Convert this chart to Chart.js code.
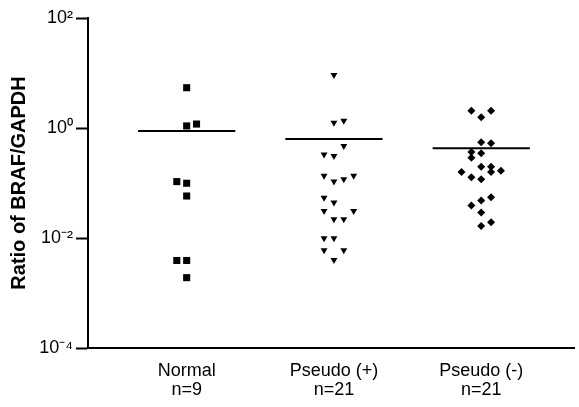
<!DOCTYPE html>
<html>
<head>
<meta charset="utf-8">
<script src="https://cdn.jsdelivr.net/npm/chart.js@4.4.1/dist/chart.umd.min.js"></script>
<style>
  html, body { margin: 0; padding: 0; background: #fff; }
</style>
</head>
<body>
<canvas id="dotChart" width="579" height="407"></canvas>
<script>
// Groups and x labels
const groups = ["Normal", "Pseudo (+)", "Pseudo (-)"];
const counts = ["n=9", "n=21", "n=21"];

// Y axis ticks (log scale)
const yTicks = [1e-4, 1e-2, 1, 1e2];
const yTickLabels = ["10\u207B\u2074", "10\u207B\u00B2", "10\u2070", "10\u00B2"];

// Ratio values per group, with the column (jitter) each dot sits in
const normalVals = [5.4, 1.09, 1.18, 0.106, 0.099, 0.058, 0.0039, 0.0039, 0.0019];
const normalCols = [0, 0, 1, -1, 0, 0, -1, 0, 0];

const pseudoPosVals = [9.2, 1.25, 1.36, 0.47, 0.33, 0.31, 0.136, 0.106, 0.117, 0.136,
  0.054, 0.044, 0.031, 0.031, 0.022, 0.022, 0.0099, 0.0099, 0.006, 0.006, 0.004];
const pseudoPosCols = [0, 0, 1, 1, -1, 0, -1, 0, 1, 2,
  -1, 0, -1, 2, 0, 1, -1, 0, -1, 1, 0];

const pseudoNegVals = [2.06, 1.57, 2.06, 0.55, 0.527, 0.366, 0.347, 0.288, 0.198, 0.198,
  0.158, 0.158, 0.167, 0.127, 0.117, 0.055, 0.048, 0.039, 0.029, 0.0165, 0.0193];
const pseudoNegCols = [-1, 0, 1, 0, 1, -1, 0, -1, 0, 1,
  -2, 1, 2, -1, 0, 1, 0, -1, 0, 0, 1];

// Horizontal bars (group means)
const groupMeans = [0.88, 0.63, 0.43];

const colStep = 0.067;   // jitter spacing in x units
const barHalf = 0.33;    // half width of the mean bar

function toPoints(vals, cols, group) {
  return vals.map((v, i) => ({ x: group + cols[i] * colStep, y: v }));
}

const dotStyle = {
  type: "scatter",
  backgroundColor: "#000",
  borderColor: "#000",
  borderWidth: 0
};

const datasets = [
  Object.assign({}, dotStyle, {
    label: groups[0],
    data: toPoints(normalVals, normalCols, 1),
    pointStyle: "rect",
    pointRadius: 5
  }),
  Object.assign({}, dotStyle, {
    label: groups[1],
    data: toPoints(pseudoPosVals, pseudoPosCols, 2),
    pointStyle: "triangle",
    rotation: 180,
    pointRadius: 4
  }),
  Object.assign({}, dotStyle, {
    label: groups[2],
    data: toPoints(pseudoNegVals, pseudoNegCols, 3),
    pointStyle: "rectRot",
    pointRadius: 4
  })
];

// mean bars
groupMeans.forEach((m, i) => {
  datasets.push({
    type: "line",
    label: groups[i] + " mean",
    data: [{ x: i + 1 - barHalf, y: m }, { x: i + 1 + barHalf, y: m }],
    borderColor: "#000",
    borderWidth: 2,
    pointRadius: 0,
    fill: false
  });
});

const ctx = document.getElementById("dotChart").getContext("2d");
const dotChart = new Chart(ctx, {
  type: "scatter",
  data: { datasets: datasets },
  options: {
    responsive: false,
    animation: false,
    devicePixelRatio: 1,
    layout: {
      padding: { top: 18, right: 0, bottom: 0, left: 0 }
    },
    plugins: {
      legend: { display: false },
      tooltip: { enabled: false }
    },
    scales: {
      x: {
        type: "linear",
        min: 0.33,
        max: 3.63,
        grid: { display: false },
        border: { display: true, color: "#000", width: 2 },
        afterBuildTicks: function (scale) {
          scale.ticks = groups.map((g, i) => ({ value: i + 1 }));
        },
        afterFit: function (scale) {
          scale.height = 59;
        },
        ticks: {
          autoSkip: false,
          maxRotation: 0,
          padding: 6,
          color: "#000",
          font: { family: "'Liberation Sans', Arial, sans-serif", size: 18, lineHeight: 1.05 },
          callback: function (value) {
            const i = Math.round(value) - 1;
            return [groups[i], counts[i]];
          }
        }
      },
      y: {
        type: "logarithmic",
        min: 1e-4,
        max: 1e2,
        grid: {
          drawOnChartArea: false,
          drawTicks: true,
          tickLength: 12,
          tickWidth: 2,
          tickColor: "#000"
        },
        border: { display: true, color: "#000", width: 2 },
        afterBuildTicks: function (scale) {
          scale.ticks = yTicks.map(v => ({ value: v }));
        },
        afterFit: function (scale) {
          scale.width = 88;
        },
        ticks: {
          padding: 3,
          color: "#000",
          font: { family: "'Liberation Sans', Arial, sans-serif", size: 18 },
          callback: function (value) {
            const i = yTicks.indexOf(value);
            return i >= 0 ? yTickLabels[i] : "";
          }
        },
        title: {
          display: true,
          text: "Ratio of BRAF/GAPDH",
          color: "#000",
          padding: { top: 7, bottom: 0 },
          font: { family: "'Liberation Sans', Arial, sans-serif", size: 20, weight: "bold" }
        }
      }
    }
  }
});
</script>
</body>
</html>
